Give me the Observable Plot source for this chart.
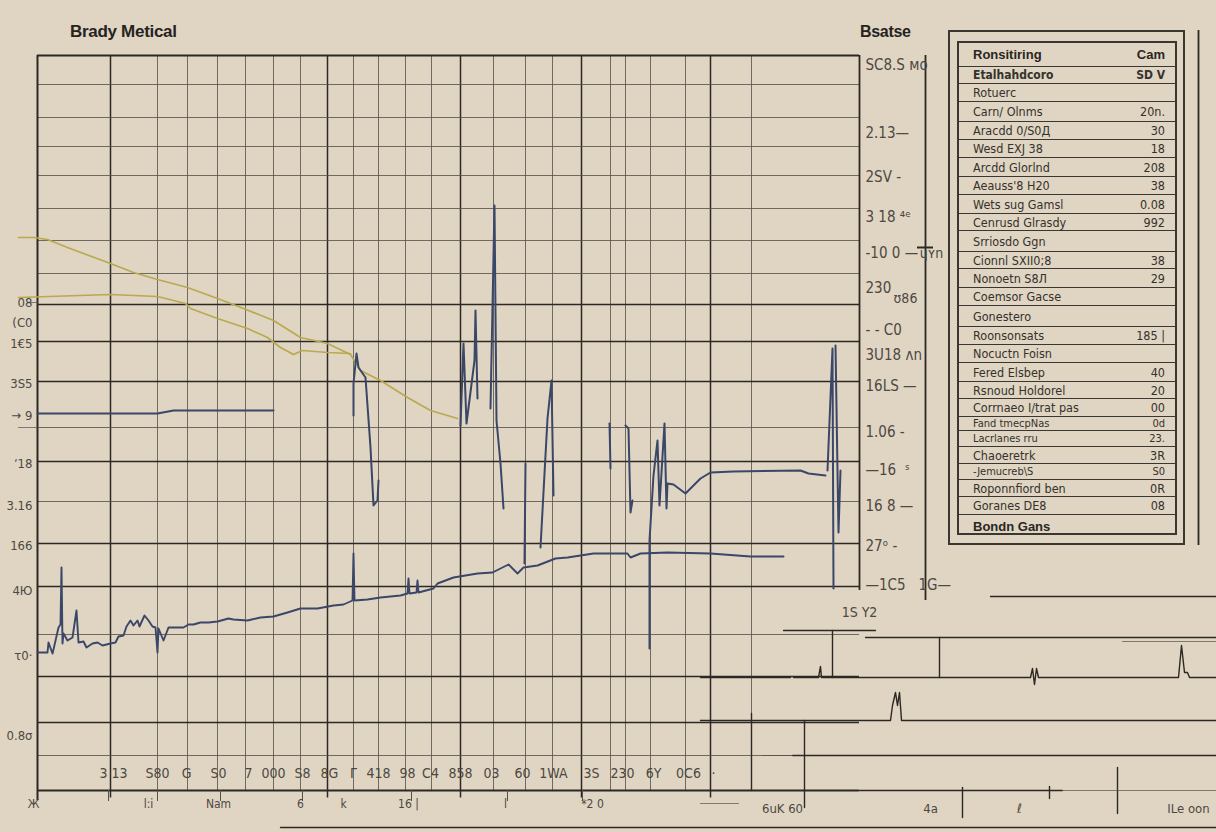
<!DOCTYPE html>
<html><head><meta charset="utf-8">
<script src="https://cdn.jsdelivr.net/npm/d3@7"></script>
<script src="https://cdn.jsdelivr.net/npm/@observablehq/plot@0.6"></script>
<style>
html,body{margin:0;padding:0;background:#dfd5c2;}
#wrap{position:relative;width:1216px;height:832px;overflow:hidden;background:#dfd5c2;}
#chart{position:absolute;left:0;top:0;}
.ttl{position:absolute;color:#26231f;font-family:"Liberation Sans",Arial,sans-serif;white-space:nowrap;font-weight:bold;letter-spacing:-0.3px;}
#t1{left:70px;top:22px;font-size:17px;}
#t2{left:860px;top:23px;font-size:16px;}
#tbl{position:absolute;left:948px;top:30px;width:237px;height:515px;box-sizing:border-box;border:2px solid #3a3632;}
#inner{position:absolute;left:7px;top:9px;width:220px;height:494px;box-sizing:border-box;border:2px solid #3a3632;font-family:"Liberation Sans Narrow","DejaVu Sans Condensed","Liberation Sans",sans-serif;color:#35312d;}
.row{display:flex;justify-content:space-between;align-items:center;box-sizing:border-box;border-bottom:1.5px solid #3a3632;padding:0 10px 0 14px;white-space:nowrap;overflow:hidden;}
.row:last-child{border-bottom:none;}
.hd{font-family:"Liberation Sans",Arial,sans-serif;font-weight:bold;font-size:13px;color:#2a2622;}
</style></head>
<body><div id="wrap">
<div id="chart"></div>
<div class="ttl" id="t1">Brady Metical</div>
<div class="ttl" id="t2">Bsatse</div>
<div id="tbl"><div id="inner"></div></div>
</div>
<script>
// ---------- data ----------
const gridXMajor = [14.6, 58, 84.6, 108.8, 134.6];
const gridXMinor = [24, 30, 36, 41.6, 47.2, 52.6, 63.2, 68.2, 73.6, 78.8, 91.2, 97.6, 103, 114.6, 117.6, 122.6, 129.6, 142.8];
const gridYMajor = [97.2, 89.8, 81.8, 65.8, 49.4, 40.8, 22.8, 13.6];
const gridYMinor = [141.2, 134.6, 128.8, 123, 116.4, 110, 103.4, 72.6, 57.8, 31.2, 7];

const yellowUpper = [[-3.8,110.6],[-0.8,110.6],[2,110.2],[6,108.6],[9.2,107.4],[14.6,105.4],[19.2,103.6],[24,102.2],[30,100.6],[36,98.4],[41.2,96.4],[47.2,94],[52.6,90.6],[58,89.4],[62.6,87.2],[64.6,84],[68.6,82],[74,78.6],[78.6,76],[84,74.4]];
const yellowLower = [[-3.8,98.6],[14.6,99.2],[24,98.8],[29.6,97.4],[30.6,96.4],[36,94.4],[42,92.4],[46,90.6],[48.6,88.6],[51.2,87.2],[53,88],[58,87.6],[62.6,87.4]];

const blueFlat = [[0,75.4],[24,75.4],[27.2,76],[47.2,76]];
const blueLower = [[0,27.6],[2,27.6],[2.2,29.6],[3,27.4],[3.2,28.2],[4.2,32.6],[4.6,33.2],[4.8,44.6],[5,29.4],[5.2,31.4],[6,30],[7,30.6],[7.8,36],[8.2,29.6],[9.2,29.8],[9.8,28.6],[11,29.4],[12,29.6],[13,29],[14.6,29.4],[15.6,29.6],[16.2,30.8],[17.2,31],[17.8,32.8],[18.6,34],[19.2,33],[20,34],[20.4,32.8],[21.4,35],[22.2,34],[23,32.8],[23.6,32.6],[24,27.6],[24.2,32.4],[25.2,30],[26.2,32.6],[27.6,32.6],[29.2,32.6],[30.2,33.2],[31.2,33.2],[32.6,33.6],[34.2,33.6],[36,33.8],[38.2,34.4],[39.2,34.2],[42,34],[44.6,34.6],[47.2,34.8],[50,35.6],[52.6,36.4],[56,36.4],[59.2,37],[61.2,37.2],[63,38],[63.2,47.4],[63.4,38],[66,38.2],[68.6,38.6],[72.6,39],[74,39.4],[74.2,42.4],[74.4,39.4],[75.8,39.6],[76,42],[76.2,39.6],[79.2,40.4],[80,41.4],[83.2,42.6],[88,43.4],[91,43.6],[92.6,44.4],[94.2,45.2],[96,43.4],[97.2,44.6],[100,45],[103.6,46.4],[106,46.6],[111.2,47.4],[118,47.4],[118.6,46.6],[120.6,47.4],[126,47.6],[134.6,47.4],[142.6,46.8],[149.2,46.8]];
const blueSpikes = [
  [[63.2,75],[63.2,81.4],[63.8,87.4],[64.2,84.6],[65.6,82.6],[66.6,68.6],[67.2,57],[68,58],[68.2,62]],
  [[84.6,73],[85.2,89.4],[85.8,73.4],[87.4,86],[87.6,96],[88,78.4]],
  [[90.6,76.4],[91.4,117],[91.8,74],[92.6,65.4],[93.2,56.4]],
  [[97.6,65.4],[97.4,45.4]],
  [[100.6,48.6],[102,74.4],[102.8,82],[103.2,59]],
  [[114.4,73.4],[114.6,64.4]],
  [[117.6,73],[118.2,72.4],[118.6,55.6],[119,58]],
  [[122.4,28.4],[122.4,50],[123.2,63],[124,70],[124.4,57],[125.4,73.4],[125.8,56.4],[126,61.4],[127.2,61.2],[129.6,59.4],[130.6,60.4],[132.6,62.4],[134.6,63.6],[139.2,63.8],[152.6,64],[154.2,63.4],[157.6,63]],
  [[158,64],[159,88.4],[159.2,40.4]],
  [[159.6,89],[160.2,51.6],[160.6,64]]
];

const traceLines = [
  [[190.6,38.8],[235.8,38.8]],
  [[149.2,32],[167.6,32]],
  [[165.6,30.6],[235.8,30.6]],
  [[132.6,22.6],[150.6,22.6]],
  [[151.2,22.6],[156.2,22.6],[156.6,24.8],[156.8,22.6],[159,22.6],[198.6,22.6],[199,24.4],[199.4,21.2],[199.8,24.4],[200.2,22.6],[228.2,22.6],[228.8,29],[229.4,23.6],[230,23.6],[230.4,22.6],[235.8,22.6]],
  [[159,32],[159,22.6]],
  [[180.4,30.6],[180.4,22.6]],
  [[132.6,14],[170.6,14],[171,17],[171.6,19.6],[172,17],[172.4,19.6],[172.8,14],[235.8,14]],
  [[142.8,15.4],[142.8,0]],
  [[153.4,14],[153.4,-3.4]],
  [[151,7],[235.8,7]],
  [[164.4,0],[205,0]],
  [[185,0.6],[185,-5.4]],
  [[202.4,0.8],[202.4,-1.6]],
  [[216,4.6],[216,-4.6]],
  [[48.6,-7.4],[235.8,-7.4]]
];
const traceLinesLight = [
  [[217,29.8],[235.8,29.8]],
  [[145,7],[151,7]],
  [[205,0],[235.8,0]],
  [[132.6,-2.6],[140.2,-2.6]],
  [[-3.8,72.6],[0,72.6]],
  [[-2,97.6],[0,97.6]]
];

const leftTicks = [97.6, 93.6, 89.4, 81.4, 75, 65.4, 57, 49, 40, 27, 11];
const leftLabels = ["08", "(C0", "1€5", "3S5", "→ 9", "ʼ18", "3.16", "166", "4Ю", "τ0·", "0.8σ"];

const bottomTicks = [15.2, 24, 29.8, 36.2, 42.2, 47.2, 53, 58.4, 63.2, 68.2, 74, 78.6, 84.6, 90.8, 97, 103.2, 110.8, 117, 123.2, 130.2, 135.2];
const bottomLabels = ["3 13", "S80", "G", "S0", "7", "000", "S8", "8G", "Γ", "418", "98", "C4", "858", "03", "60", "1WA", "3S", "230", "6Y", "0C6", "·"];

const subTicks = [14.2, 24, 36.6, 53, 74.8, 94, 109];
const subTickPos = [-0.8, 22.2, 36.2, 52.6, 61.2, 74.2, 93.6, 111];
const subLabels = ["Ж", "l:i", "Nam", "6", "k", "16 |", "l", "*2 0"];
const farTickPos = [149, 178.6, 196.4, 230.2];
const farLabels = ["6uK 60", "4a", "ℓ", "ILe oon"];

const rightTicks = [145, 131.4, 122.6, 114.6, 107.4, 100.4, 92, 87, 80.8, 71.6, 64, 56.8, 48.8, 41];
const rightLabels = ["SC8.S мо", "2.13—", "2SV -", "3 18 ⁴ᵉ", "-10 0 —", "230", "- - C0", "3U18 ᴧn", "16LS —", "1.06 -", "—16  ˢ", "16 8 —", "27ᵒ -", "—1C5   1G—"];
const rightExtra = [[173.6, 98.4, "ʊ86"], [178.8, 107.4, "ɥʏn"], [164.4, 35.6, "1S Y2"]];

const tableHeader = ["Ronsitiring", "Cam"];
const tableNames = ["Etalhahdcoro", "Rotuerc", "Carn/ Olnms", "Aracdd 0/S0Д", "Wesd EXJ 38", "Arcdd Glorlnd", "Aeauss'8 H20", "Wets sug Gamsl", "Cenrusd Glrasdy", "Srriosdo Ggn", "Cionnl SXII0;8", "Nonoetn S8Л", "Coemsor Gacse", "Gonestero", "Roonsonsats", "Nocuctn Foisn", "Fered Elsbep", "Rsnoud Holdorel", "Corrnaeo I/trat pas", "Fand tmecpNas", "Lacrlanes rru", "Chaoeretrk", "-Jemucreb\\S", "Roponnfiord ben", "Goranes DE8"];
const tableValues = ["SD V", "", "20n.", "30", "18", "208", "38", "0.08", "992", "", "38", "29", "", "", "185 |", "", "40", "20", "00", "0d", "23.", "3R", "S0", "0R", "08"];
const tableFooter = "Bondn Gans";

// ---------- layout (not data) ----------
const rowH = [24,17,18,20,18,18,19,18,19,17,21,17,19,18,21,18,18,19,17,18,14,16,17,16,17,18,22];

// ---------- chart ----------
const FONT = "Liberation Sans Narrow, DejaVu Sans Condensed, Liberation Sans, sans-serif";
const ink = "#2c2824", soft = "#554f48", blue = "#3a4768", yel = "#b9a94f", lab = "#4d4843";

const marks = [
  Plot.ruleX(gridXMinor, {y1: 0, y2: 147, stroke: soft, strokeWidth: 0.9, strokeOpacity: 0.9}),
  Plot.ruleX(gridXMajor, {y1: -1.5, y2: 147, stroke: ink, strokeWidth: 1.5}),
  Plot.ruleY(gridYMinor, {x1: 0, x2: 164.4, stroke: soft, strokeWidth: 0.9, strokeOpacity: 0.9}),
  Plot.ruleY(gridYMajor, {x1: 0, x2: 164.4, stroke: ink, strokeWidth: 1.4}),
  Plot.ruleY([147], {x1: 0, x2: 164.4, stroke: ink, strokeWidth: 2}),
  Plot.ruleY([0], {x1: 0, x2: 164.4, stroke: ink, strokeWidth: 2}),
  Plot.ruleX([0], {y1: -2, y2: 147, stroke: ink, strokeWidth: 2}),
  Plot.ruleX([164.4], {y1: 40, y2: 147, stroke: ink, strokeWidth: 1.8}),
  Plot.ruleX([177.6], {y1: 38, y2: 147, stroke: ink, strokeWidth: 1.8}),
  Plot.ruleY([108.6], {x1: 176, x2: 179.2, stroke: ink, strokeWidth: 2}),
  Plot.ruleX([232.2], {y1: 49, y2: 152, stroke: ink, strokeWidth: 1.8}),
  Plot.ruleX(subTicks, {y1: 0, y2: -2.2, stroke: soft, strokeWidth: 1}),
  ...traceLines.map(s => Plot.line(s, {stroke: ink, strokeWidth: 1.4})),
  ...traceLinesLight.map(s => Plot.line(s, {stroke: soft, strokeWidth: 1, strokeOpacity: 0.7})),
  Plot.line(yellowUpper, {stroke: yel, strokeWidth: 1.7}),
  Plot.line(yellowLower, {stroke: yel, strokeWidth: 1.7}),
  Plot.line(blueFlat, {stroke: blue, strokeWidth: 2}),
  Plot.line(blueLower, {stroke: blue, strokeWidth: 1.9}),
  ...blueSpikes.map(s => Plot.line(s, {stroke: blue, strokeWidth: 2})),
  Plot.text(leftTicks, {x: 0, y: d => d, text: (d, i) => leftLabels[i], textAnchor: "end", dx: -5, fontSize: 13, fill: lab}),
  Plot.text(bottomTicks, {x: d => d, y: 3.4, text: (d, i) => bottomLabels[i], fontSize: 14, fill: lab}),
  Plot.text(subTickPos, {x: d => d, y: -2.8, text: (d, i) => subLabels[i], fontSize: 12, fill: lab}),
  Plot.text(farTickPos, {x: d => d, y: -3.6, text: (d, i) => farLabels[i], fontSize: 13, fill: lab}),
  Plot.text(rightTicks, {x: 164.4, y: d => d, text: (d, i) => rightLabels[i], textAnchor: "start", dx: 6, fontSize: 15, fill: lab}),
  Plot.text(rightExtra, {x: d => d[0], y: d => d[1], text: d => d[2], fontSize: 14, fill: lab})
];

const svg = Plot.plot({
  width: 1216, height: 832,
  marginLeft: 37, marginRight: 357, marginTop: 55, marginBottom: 42,
  x: {domain: [0, 164.4], axis: null},
  y: {domain: [0, 147], axis: null},
  style: {background: "transparent", fontFamily: FONT, overflow: "visible"},
  marks
});
document.getElementById("chart").appendChild(svg);

// ---------- table ----------
const inner = document.getElementById("inner");
const rows = [[tableHeader[0], tableHeader[1], "hd"]]
  .concat(tableNames.map((n, i) => [n, tableValues[i], ""]))
  .concat([[tableFooter, "", "hd"]]);
rows.forEach((r, i) => {
  const div = document.createElement("div");
  div.className = "row " + r[2];
  div.style.height = rowH[i] + "px";
  if (!r[2]) div.style.fontSize = rowH[i] < 17 ? "11px" : (i === 1 ? "12px" : "12.5px");
  if (i === 1) div.style.fontWeight = "bold";
  const a = document.createElement("span"); a.textContent = r[0];
  const b = document.createElement("span"); b.textContent = r[1];
  div.appendChild(a); div.appendChild(b);
  inner.appendChild(div);
});
</script>
</body></html>
